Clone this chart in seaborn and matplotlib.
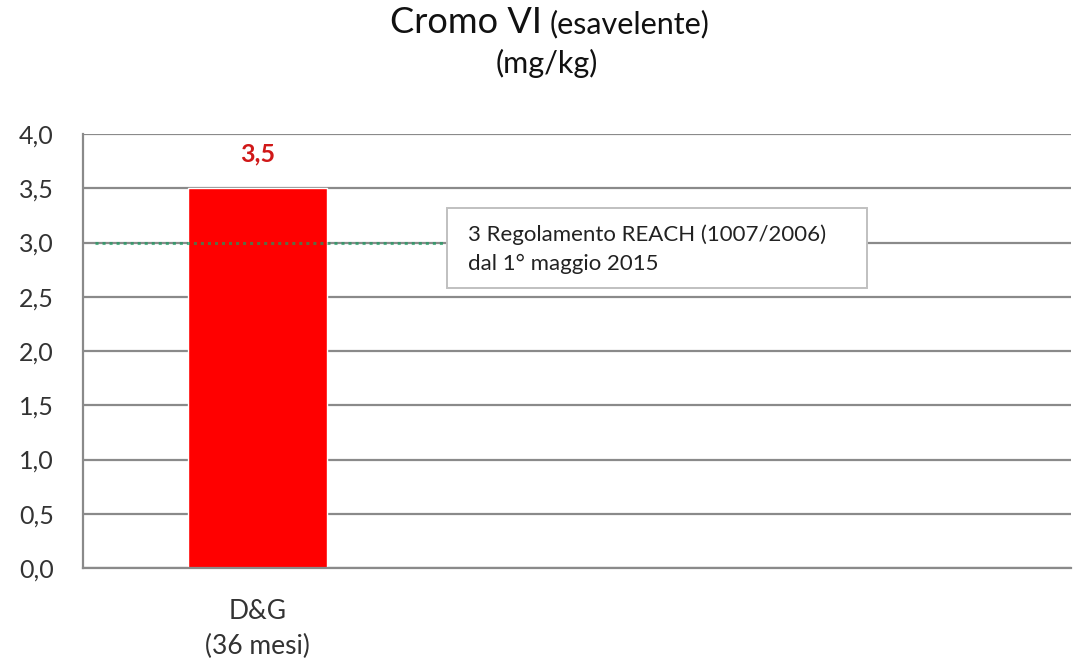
import numpy as np
import pandas as pd
import matplotlib
matplotlib.use("Agg")
import matplotlib.pyplot as plt
import seaborn as sns
from matplotlib.ticker import FuncFormatter

# data
categories = ["D&G\n(36 mesi)", " ", "  "]
values = [3.5, np.nan, np.nan]
y_ticks = [0.0, 0.5, 1.0, 1.5, 2.0, 2.5, 3.0, 3.5, 4.0]
limit_value = 3.0
limit_text = "3 Regolamento REACH (1007/2006)\ndal 1° maggio 2015"

GRID = "#8a8a8a"
FONT = ["Lato", "DejaVu Sans"]

sns.set_style("white")
plt.rcParams["font.family"] = FONT

df = pd.DataFrame({"cat": categories, "val": values})

W, H = 1076, 665
fig = plt.figure(figsize=(W / 100, H / 100), dpi=100)
ax = fig.add_axes([83 / W, (H - 568) / H, (1071 - 83) / W, (568 - 134) / H])

sns.barplot(data=df, x="cat", y="val", hue="cat", palette=["#ff0000"] * 3,
            legend=False, errorbar=None, width=0.40, saturation=1, ax=ax, zorder=2)

ax.set_ylim(0, 4.0)
ax.set_xlim(-0.5, -0.5 + (1071 - 83) / 349)
ax.set_yticks(y_ticks)
ax.yaxis.set_major_formatter(FuncFormatter(lambda v, _: f"{v:.1f}".replace(".", ",")))
ax.tick_params(axis="y", length=8, width=1.4, color=GRID, labelsize=18,
               labelcolor="#333333", pad=13)
ax.yaxis.grid(True, color=GRID, linewidth=1.6, zorder=0)
ax.set_axisbelow(True)

# category labels centred, tick marks on category boundaries
ax.set_xticks(range(len(categories)))
ax.set_xticklabels(categories, fontsize=19, color="#333333", linespacing=1.5)
ax.tick_params(axis="x", which="major", length=0, pad=22)
ax.set_xticks([i - 0.5 for i in range(len(categories))], minor=True)
ax.tick_params(axis="x", which="minor", length=10, width=1.4, color=GRID)
ax.set_xlabel("")
ax.set_ylabel("")

for side in ["top", "right"]:
    ax.spines[side].set_visible(False)
for side in ["left", "bottom"]:
    ax.spines[side].set_color(GRID)
    ax.spines[side].set_linewidth(1.6)

# value label
for i, v in enumerate(values):
    if not np.isnan(v):
        ax.text(i, v + 0.32, f"{v:.1f}".replace(".", ","), ha="center", va="center",
                color="#d01818", fontsize=18, fontweight="bold")

# limit line (dotted, up to the annotation box)
ax.plot([-0.466, 0.539], [limit_value, limit_value], linestyle=(0, (1, 1.3)),
        color="#1a9a60", linewidth=2.2, alpha=0.7, zorder=3)

box = plt.Rectangle((447 / W, (H - 288) / H), (867 - 447) / W, 80 / H,
                    transform=fig.transFigure, facecolor="white", edgecolor="#c0c0c0",
                    linewidth=1.4, zorder=1)
fig.patches.append(box)
fig.text(468 / W, (H - 249) / H, limit_text, fontsize=16, color="#222222",
         va="center", ha="left", linespacing=1.55)

# title with two font sizes
fig.text(542 / W, (H - 33) / H, "Cromo VI", fontsize=26, ha="right", va="baseline",
         color="#111111")
fig.text(550 / W, (H - 33) / H, "(esavelente)", fontsize=22, ha="left", va="baseline",
         color="#111111")
fig.text(547 / W, (H - 73) / H, "(mg/kg)", fontsize=22, ha="center", va="baseline",
         color="#111111")

fig.savefig("out.png", dpi=100)
plt.close(fig)
